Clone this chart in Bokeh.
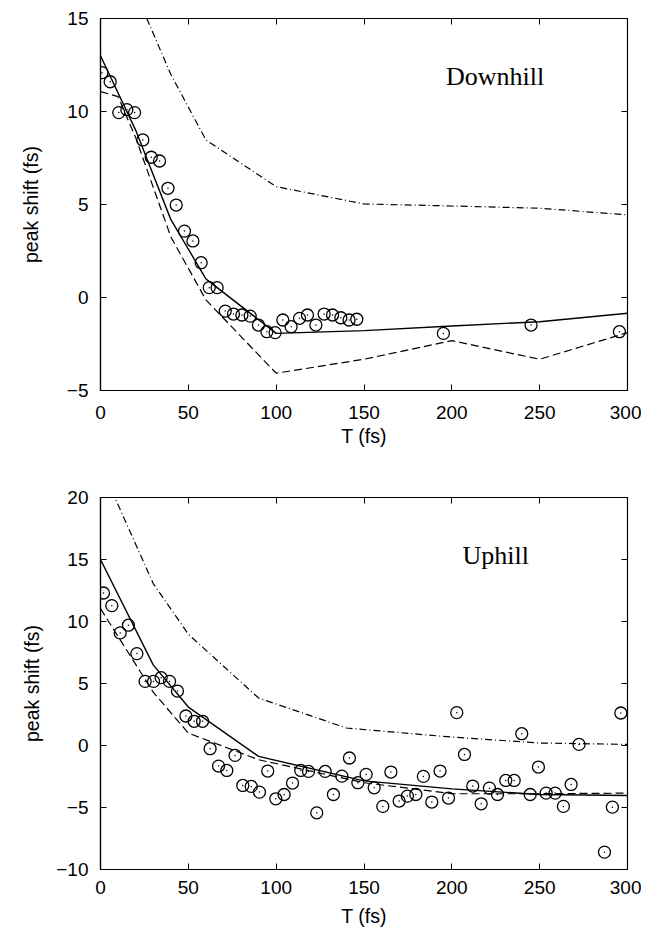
from bokeh.plotting import figure
from bokeh.layouts import column
from bokeh.models import Range1d, LinearAxis, FixedTicker
from bokeh.core.properties import value
from bokeh.embed import file_html
from bokeh.resources import INLINE

# ---------------- Downhill data ----------------
down_exp_t = [0.8, 5.5, 10.4, 15.0, 19.4, 24.1, 28.9, 33.6, 38.4, 43.1, 47.8, 52.6,
              57.3, 61.9, 66.4, 71.0, 75.7, 80.5, 85.2, 89.9, 94.7, 99.4, 103.8,
              108.5, 113.3, 117.8, 122.6, 127.3, 132.1, 136.8, 141.5, 145.9,
              195.2, 245.1, 295.4]
down_exp_y = [12.09, 11.6, 9.94, 10.1, 9.94, 8.47, 7.54, 7.34, 5.87, 4.97, 3.57, 3.04,
              1.87, 0.53, 0.53, -0.73, -0.89, -0.94, -1.0, -1.48, -1.84, -1.89, -1.21,
              -1.57, -1.12, -0.94, -1.48, -0.89, -0.94, -1.09, -1.21, -1.17,
              -1.93, -1.48, -1.84]
down_solid_t = [0, 20, 40, 60, 100, 150, 200, 250, 300]
down_solid_y = [13.0, 9.0, 4.2, 1.0, -1.93, -1.78, -1.53, -1.30, -0.85]
down_dash_t = [0, 10, 20, 40, 60, 100, 150, 200, 250, 300]
down_dash_y = [11.07, 10.8, 8.6, 3.27, -0.13, -4.07, -3.32, -2.32, -3.32, -1.89]
down_dd_t = [0, 20, 40, 60, 100, 150, 200, 250, 300]
down_dd_y = [20.5, 16.4, 12.0, 8.47, 5.96, 5.03, 4.92, 4.80, 4.44]
down_yticks = [-5, 0, 5, 10, 15]
down_label = "Downhill"
down_label_pos = (224.6, 11.9)

# ---------------- Uphill data ----------------
up_exp_t = [1.7, 6.45, 11.2, 15.9, 20.7, 25.4, 30.2, 34.5, 39.3, 43.8, 48.6, 53.3,
            58.1, 62.4, 67.2, 71.9, 76.6, 81.0, 85.8, 90.5, 95.2, 99.8, 104.5,
            109.3, 114.0, 118.4, 123.1, 127.9, 132.6, 137.4, 141.7, 146.5, 151.2,
            155.8, 160.7, 165.3, 170.0, 174.7, 179.5, 183.8, 188.6, 193.3, 198.1,
            202.8, 207.2, 211.9, 216.7, 221.4, 226.0, 230.7, 235.5, 239.8, 244.6,
            249.3, 253.7, 258.8, 263.5, 267.9, 272.4, 286.9, 291.4, 296.2]
up_exp_y = [12.3, 11.28, 9.08, 9.7, 7.41, 5.17, 5.17, 5.47, 5.17, 4.39, 2.38, 1.95,
            1.95, -0.26, -1.66, -2.01, -0.8, -3.22, -3.3, -3.76, -2.06, -4.3, -3.95,
            -3.03, -2.01, -2.09, -5.43, -2.09, -3.95, -2.47, -1.01, -3.0, -2.33,
            -3.41, -4.91, -2.14, -4.48, -4.08, -3.95, -2.49, -4.56, -2.06, -4.24,
            2.65, -0.72, -3.27, -4.7, -3.44, -3.95, -2.82, -2.82, 0.95, -3.95,
            -1.74, -3.84, -3.84, -4.91, -3.14, 0.09, -8.6, -4.97, 2.62]
up_solid_t = [0, 30, 50, 90, 150, 200, 250, 300]
up_solid_y = [15.0, 6.5, 3.1, -0.88, -2.85, -3.5, -3.95, -4.03]
up_dash_t = [0, 30, 50, 90, 150, 200, 250, 300]
up_dash_y = [11.04, 4.3, 1.0, -1.15, -3.0, -3.89, -3.89, -3.84]
up_dd_t = [0, 30, 50, 90, 140, 200, 250, 300]
up_dd_y = [22.6, 13.06, 8.97, 3.83, 1.41, 0.68, 0.2, 0.09]
up_yticks = [-10, -5, 0, 5, 10, 15, 20]
up_label = "Uphill"
up_label_pos = (225.0, 15.35)

x_ticks = [0, 50, 100, 150, 200, 250, 300]

SANS = "Liberation Sans"
SERIF = "Liberation Serif"


def minus(v):
    return ("\u2212" + str(abs(v))) if v < 0 else str(v)


def make_panel(ylo, yhi, yticks, height, btop, bbot, ystandoff, xlab_so, xtitle_so,
               et, ey, st, sy, dt, dy, ddt, ddy, label, label_pos, label_size):
    p = figure(width=641, height=height,
               x_range=Range1d(0, 300), y_range=Range1d(ylo, yhi),
               output_backend="svg", toolbar_location=None,
               min_border_left=100, min_border_right=14,
               min_border_top=btop, min_border_bottom=bbot,
               x_axis_label="T (fs)", y_axis_label="peak shift (fs)")
    p.grid.visible = False
    p.outline_line_color = "black"
    p.outline_line_width = 1.2
    p.background_fill_color = "white"
    p.border_fill_color = "white"

    for ax in (p.xaxis[0], p.yaxis[0]):
        ax.axis_line_color = "black"
        ax.axis_line_width = 1.2
        ax.major_tick_in = 6
        ax.major_tick_out = 0
        ax.minor_tick_line_color = None
        ax.major_tick_line_color = "black"
        ax.major_label_text_font = SANS
        ax.major_label_text_font_size = "19px"
        ax.major_label_text_color = "black"
        ax.axis_label_text_font = SANS
        ax.axis_label_text_font_size = "19.5px"
        ax.axis_label_text_font_style = "normal"
        ax.axis_label_text_color = "black"

    p.xaxis[0].ticker = FixedTicker(ticks=x_ticks)
    p.xaxis[0].major_label_standoff = xlab_so
    p.xaxis[0].axis_label_standoff = xtitle_so
    p.yaxis[0].ticker = FixedTicker(ticks=yticks)
    p.yaxis[0].major_label_overrides = {v: minus(v) for v in yticks}
    p.yaxis[0].major_label_standoff = 12
    p.yaxis[0].axis_label_standoff = ystandoff

    top = LinearAxis(ticker=FixedTicker(ticks=x_ticks), major_tick_in=6, major_tick_out=0,
                     minor_tick_line_color=None,
                     major_label_overrides={v: "" for v in x_ticks},
                     major_label_standoff=0, axis_line_color=None)
    right = LinearAxis(ticker=FixedTicker(ticks=yticks), major_tick_in=6, major_tick_out=0,
                       minor_tick_line_color=None,
                       major_label_overrides={v: "" for v in yticks},
                       major_label_standoff=0, axis_line_color=None)
    p.add_layout(top, "above")
    p.add_layout(right, "right")

    p.line(ddt, ddy, line_color="black", line_width=1.2, line_dash="7 3 1 3")
    p.line(dt, dy, line_color="black", line_width=1.2, line_dash="8 4")
    p.line(st, sy, line_color="black", line_width=1.4)
    p.scatter(et, ey, marker="circle", size=12, fill_color=None,
              line_color="black", line_width=1.3)
    p.scatter(et, ey, marker="circle", size=1.5, fill_color="black",
              line_color=None)

    p.text(x=[label_pos[0]], y=[label_pos[1]], text=[label],
           text_font=value(SERIF), text_font_size=label_size,
           text_align="center", text_baseline="alphabetic", text_color="black")
    return p


p1 = make_panel(-5, 15, down_yticks, 469, 18, 79, 22, 15, 3,
                down_exp_t, down_exp_y, down_solid_t, down_solid_y,
                down_dash_t, down_dash_y, down_dd_t, down_dd_y,
                down_label, down_label_pos, "26px")
p2 = make_panel(-10, 20, up_yticks, 465, 28, 65, 10, 11, 8,
                up_exp_t, up_exp_y, up_solid_t, up_solid_y,
                up_dash_t, up_dash_y, up_dd_t, up_dd_y,
                up_label, up_label_pos, "26px")

layout = column(p1, p2)
open("out.html", "w").write(file_html(layout, INLINE))
